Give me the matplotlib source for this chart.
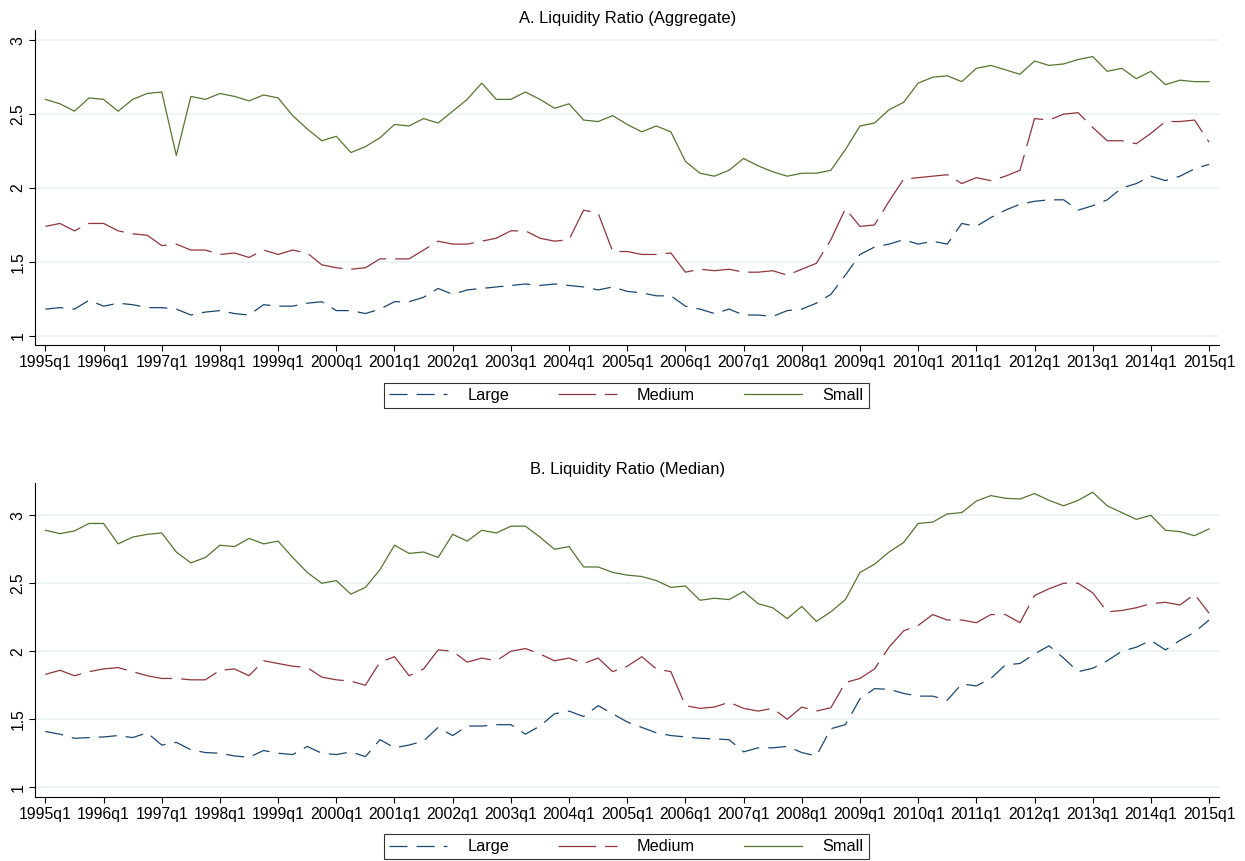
import numpy as np
import matplotlib
matplotlib.use("Agg")
import matplotlib.pyplot as plt

plt.rcParams['font.family'] = ['Liberation Sans', 'DejaVu Sans']
plt.rcParams['lines.scale_dashes'] = False

# quarters 1995q1 .. 2015q1
quarters = [f"{y}q{q}" for y in range(1995, 2016) for q in range(1, 5)][:81]
tick_labels = [f"{y}q1" for y in range(1995, 2016)]

# A. aggregate liquidity ratio
agg_large = [1.18, 1.19, 1.18, 1.24, 1.20, 1.22, 1.21, 1.19, 1.19, 1.18, 1.14, 1.16, 1.17, 1.15, 1.14, 1.21, 1.20, 1.20, 1.22, 1.23,
             1.17, 1.17, 1.15, 1.18, 1.23, 1.23, 1.26, 1.32, 1.28, 1.31, 1.32, 1.33, 1.34, 1.35, 1.34, 1.35, 1.34, 1.33, 1.31, 1.33, 1.30,
             1.29, 1.27, 1.27, 1.20, 1.18, 1.15, 1.18, 1.14, 1.14, 1.13, 1.17, 1.18, 1.22, 1.28, 1.41, 1.55, 1.60, 1.62, 1.65, 1.62,
             1.64, 1.62, 1.76, 1.74, 1.80, 1.85, 1.89, 1.91, 1.92, 1.92, 1.85, 1.88, 1.92, 2.00, 2.03, 2.08, 2.05, 2.08, 2.13, 2.16]
agg_medium = [1.74, 1.76, 1.71, 1.76, 1.76, 1.71, 1.69, 1.68, 1.61, 1.62, 1.58, 1.58, 1.55, 1.56, 1.53, 1.58, 1.55, 1.58, 1.56, 1.48,
              1.46, 1.45, 1.46, 1.52, 1.52, 1.52, 1.58, 1.64, 1.62, 1.62, 1.64, 1.66, 1.71, 1.71, 1.66, 1.64, 1.65, 1.85, 1.83, 1.57, 1.57,
              1.55, 1.55, 1.56, 1.43, 1.45, 1.44, 1.45, 1.43, 1.43, 1.44, 1.41, 1.45, 1.49, 1.65, 1.86, 1.74, 1.75, 1.91, 2.06, 2.07,
              2.08, 2.09, 2.03, 2.07, 2.05, 2.08, 2.12, 2.47, 2.46, 2.50, 2.51, 2.41, 2.32, 2.32, 2.30, 2.37, 2.45, 2.45, 2.46, 2.31]
agg_small = [2.60, 2.57, 2.52, 2.61, 2.60, 2.52, 2.60, 2.64, 2.65, 2.22, 2.62, 2.60, 2.64, 2.62, 2.59, 2.63, 2.61, 2.49, 2.40, 2.32,
             2.35, 2.24, 2.28, 2.34, 2.43, 2.42, 2.47, 2.44, 2.52, 2.60, 2.71, 2.60, 2.60, 2.65, 2.60, 2.54, 2.57, 2.46, 2.45, 2.49, 2.43,
             2.38, 2.42, 2.38, 2.18, 2.10, 2.08, 2.12, 2.20, 2.15, 2.11, 2.08, 2.10, 2.10, 2.12, 2.26, 2.42, 2.44, 2.53, 2.58, 2.71,
             2.75, 2.76, 2.72, 2.81, 2.83, 2.80, 2.77, 2.86, 2.83, 2.84, 2.87, 2.89, 2.79, 2.81, 2.74, 2.79, 2.70, 2.73, 2.72, 2.72]

# B. median liquidity ratio
med_large = [1.41, 1.39, 1.36, 1.365, 1.37, 1.38, 1.365, 1.40, 1.31, 1.33, 1.275, 1.255, 1.25, 1.23, 1.22, 1.27, 1.25, 1.24, 1.30, 1.25,
             1.24, 1.26, 1.225, 1.35, 1.29, 1.31, 1.34, 1.44, 1.38, 1.45, 1.45, 1.46, 1.46, 1.39, 1.45, 1.54, 1.56, 1.52, 1.60, 1.54, 1.48,
             1.44, 1.40, 1.38, 1.37, 1.36, 1.355, 1.35, 1.26, 1.29, 1.29, 1.30, 1.255, 1.23, 1.43, 1.46, 1.65, 1.725, 1.72, 1.69, 1.67,
             1.67, 1.64, 1.76, 1.745, 1.80, 1.90, 1.91, 1.98, 2.04, 1.95, 1.85, 1.875, 1.93, 2.00, 2.03, 2.08, 2.01, 2.08, 2.14, 2.23]
med_medium = [1.83, 1.86, 1.82, 1.85, 1.87, 1.88, 1.85, 1.82, 1.80, 1.80, 1.79, 1.79, 1.86, 1.87, 1.82, 1.93, 1.91, 1.89, 1.88, 1.81,
              1.79, 1.78, 1.75, 1.92, 1.96, 1.82, 1.87, 2.01, 2.00, 1.92, 1.95, 1.93, 2.00, 2.02, 1.98, 1.93, 1.95, 1.91, 1.95, 1.85, 1.89,
              1.96, 1.87, 1.85, 1.60, 1.58, 1.59, 1.625, 1.58, 1.56, 1.58, 1.50, 1.59, 1.56, 1.585, 1.77, 1.80, 1.87, 2.03, 2.15, 2.19,
              2.27, 2.23, 2.23, 2.21, 2.27, 2.27, 2.21, 2.41, 2.46, 2.50, 2.50, 2.43, 2.29, 2.30, 2.32, 2.35, 2.36, 2.34, 2.42, 2.28]
med_small = [2.89, 2.865, 2.885, 2.94, 2.94, 2.79, 2.84, 2.86, 2.87, 2.73, 2.65, 2.69, 2.78, 2.77, 2.83, 2.79, 2.81, 2.69, 2.58, 2.50,
             2.52, 2.42, 2.47, 2.60, 2.78, 2.72, 2.73, 2.69, 2.86, 2.81, 2.89, 2.87, 2.92, 2.92, 2.84, 2.75, 2.77, 2.62, 2.62, 2.58, 2.56,
             2.55, 2.52, 2.47, 2.48, 2.375, 2.39, 2.38, 2.44, 2.35, 2.32, 2.24, 2.33, 2.22, 2.29, 2.38, 2.58, 2.64, 2.73, 2.80, 2.94,
             2.95, 3.01, 3.02, 3.105, 3.145, 3.125, 3.12, 3.16, 3.11, 3.07, 3.11, 3.17, 3.07, 3.02, 2.97, 3.00, 2.89, 2.88, 2.85, 2.90]

series_names = ["Large", "Medium", "Small"]
colors = ["#1a476f", "#90353b", "#55752f"]
dashes = [(13, 6.5), (27, 6.5), None]

fig = plt.figure(figsize=(12.45, 8.61), dpi=100)
ax_a = fig.add_axes([0.0284, 0.5993, 0.9508, 0.3659])
ax_b = fig.add_axes([0.0284, 0.0740, 0.9508, 0.3654])

x = np.arange(len(quarters))


def draw_panel(ax, data, title, ylim, pad):
    handles = []
    for vals, name, c, d in zip(data, series_names, colors, dashes):
        line, = ax.plot(x, vals, color=c, lw=0.9, label=name)
        if d is not None:
            line.set_dashes(d)
        handles.append(line)
    ax.set_xlim(-0.69, 80.69)
    ax.set_ylim(*ylim)
    ax.set_xticks(np.arange(0, 81, 4))
    ax.set_xticklabels(tick_labels, fontsize=11.3)
    ax.set_yticks([1, 1.5, 2, 2.5, 3])
    ax.set_yticklabels(["1", "1.5", "2", "2.5", "3"], fontsize=11.3,
                       rotation=90, va="center")
    ax.grid(axis="y", color="#eaf2f3", lw=1.2)
    ax.set_axisbelow(True)
    for s in ["top", "right"]:
        ax.spines[s].set_visible(False)
    for s in ["left", "bottom"]:
        ax.spines[s].set_linewidth(0.8)
    ax.tick_params(length=4, width=0.8, colors="black", pad=3)
    ax.set_title(title, fontsize=11.9, pad=pad)
    return handles


h = draw_panel(ax_a, [agg_large, agg_medium, agg_small],
               "A. Liquidity Ratio (Aggregate)", (0.937, 3.07), 5)
draw_panel(ax_b, [med_large, med_medium, med_small],
           "B. Liquidity Ratio (Median)", (0.926, 3.24), 6)

for yc in [0.5407, 0.0165]:
    leg = fig.legend(h, series_names, loc="center", bbox_to_anchor=(0.503, yc),
                     ncol=3, fontsize=11.7, frameon=True, fancybox=False,
                     handlelength=3.6, handletextpad=1.25, columnspacing=3.0,
                     borderpad=0.3, borderaxespad=0)
    leg.get_frame().set_edgecolor("black")
    leg.get_frame().set_linewidth(0.8)

fig.savefig("out.png", dpi=100)
